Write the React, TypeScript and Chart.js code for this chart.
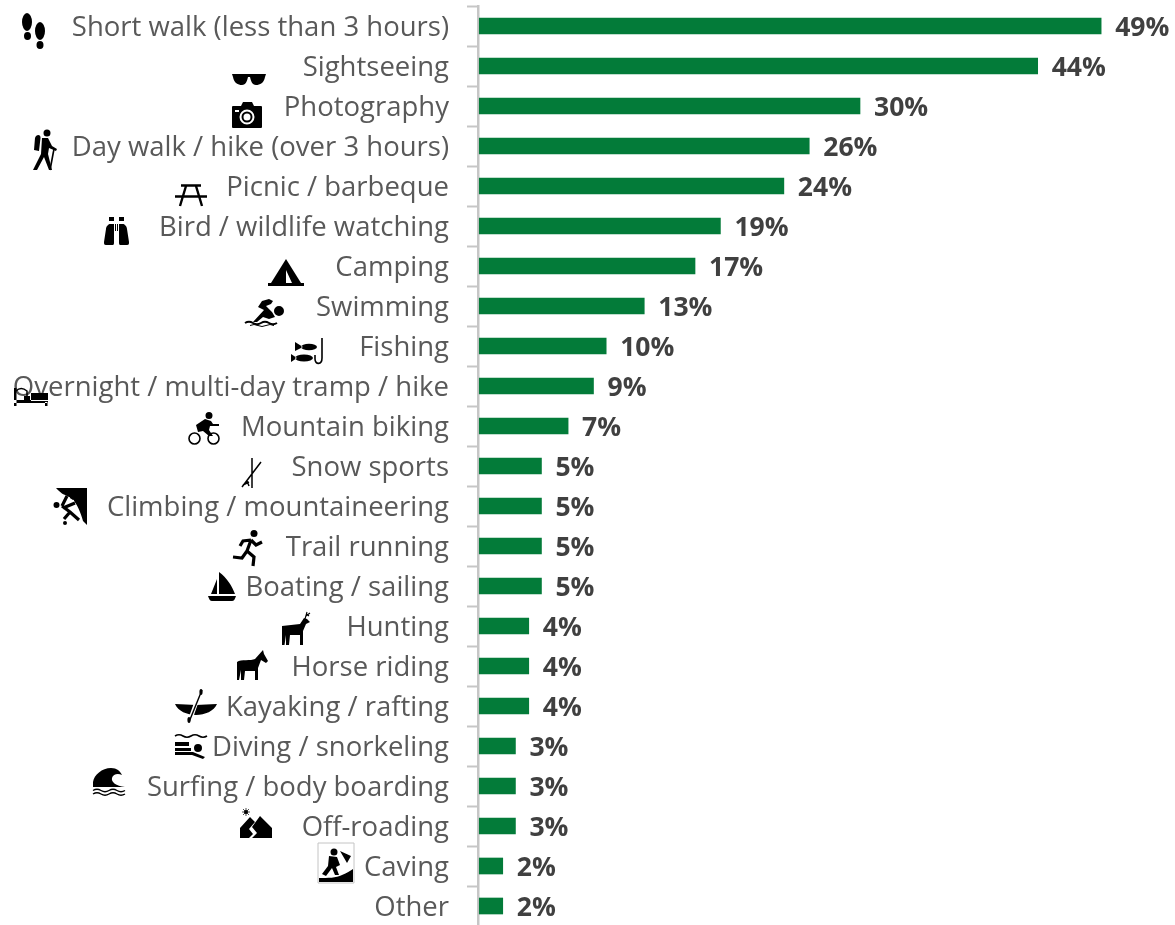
import React, { useEffect, useRef } from "react";
import { Chart, registerables } from "chart.js";

Chart.register(...registerables);

const categories = [
  "Short walk (less than 3 hours)", "Sightseeing", "Photography", "Day walk / hike (over 3 hours)",
  "Picnic / barbeque", "Bird / wildlife watching", "Camping", "Swimming", "Fishing",
  "Overnight / multi-day tramp / hike", "Mountain biking", "Snow sports", "Climbing / mountaineering",
  "Trail running", "Boating / sailing", "Hunting", "Horse riding", "Kayaking / rafting",
  "Diving / snorkeling", "Surfing / body boarding", "Off-roading", "Caving", "Other",
];
const shares = [49, 44, 30, 26, 24, 19, 17, 13, 10, 9, 7, 4.9, 4.9, 4.9, 4.9, 3.9, 3.9, 3.9, 2.85, 2.85, 2.85, 1.85, 1.85];

const circle = (cx: number, cy: number, rx: number, ry = rx) =>
  `M${cx - rx} ${cy}A${rx} ${ry} 0 1 0 ${cx + rx} ${cy}A${rx} ${ry} 0 1 0 ${cx - rx} ${cy}Z`;
const rect = (x: number, y: number, w: number, h: number) => `M${x} ${y}h${w}v${h}h${-w}Z`;
const wave = (y: number) => `M0 ${y}q4 -2.5 8 0t8 0t8 0t8 0`;

type Layer = { f?: string; s?: string; w?: number; c?: string };
type Icon = { x: number; y: number; layers: Layer[] };

const icons: Icon[] = [
  { x: 22, y: 13, layers: [{ f: circle(5, 9, 5, 9) + circle(5.5, 23, 3.5, 4) + circle(18, 18, 5, 9) + circle(18, 32, 3.5, 4) }] },
  { x: 232, y: 73, layers: [{ f: "M0 1H34L33 4C32 10 28 12 24 12C20 12 19 8 18 4H16C15 8 14 12 10 12C6 12 2 10 1 4Z" }] },
  { x: 232, y: 101, layers: [{ f: "M1 5H9L11 1H20L22 5H29Q30 5 30 6V26Q30 27 29 27H1Q0 27 0 26V6Q0 5 1 5Z" + circle(15, 16, 7.5) + circle(15, 16, 5.5) + circle(15, 16, 3.5) + rect(3, 9, 4, 2) }] },
  { x: 33, y: 129, layers: [{ f: circle(14, 4, 3.5) + "M2 9C3 5 8 5 7.5 9L6 22L1 21Z" + "M9 9H15L19 17L24 20L23 22L16 19L15 25L19 41H16L11 28L4 41H0L8 25Z" }, { s: "M21 20L17 41", w: 1.6 }] },
  { x: 175, y: 183, layers: [{ s: "M6 2.5H26M0 13.5H32M11 3L5 23M21 3L27 23", w: 2.4 }] },
  { x: 104, y: 217, layers: [{ f: "M2 12C2 9 5 7 6 7H10V26C10 28 9 28 8 28H2C0 28 0 27 0 25Z" + "M23 12C23 9 20 7 19 7H15V26C15 28 16 28 17 28H23C25 28 25 27 25 25Z" + rect(5, 0, 5, 4) + rect(15, 0, 5, 4) + rect(11, 7, 1, 7) + rect(13, 7, 1, 7) }] },
  { x: 268, y: 259, layers: [{ f: "M18 0L33 24H36V27H0V24H3Z" + "M18 11L24 24H18Z" }] },
  { x: 245, y: 298, layers: [{ f: circle(34, 13, 5) + "M8 24L19 12L13 9L17 3L24 1L28 3L26 6L21 8L27 14L30 19L24 21L18 19L12 24Z" }, { s: wave(25), w: 2 }, { s: "M5 27.5q4 -2 8 0t8 0t8 0", w: 1 }] },
  { x: 291, y: 338, layers: [{ f: circle(18, 9, 8, 3.2) + "M4 4L12 9L4 13Z" + circle(13, 20, 9, 3.5) + "M0 16L6 20L0 24Z" }, { s: "M31 0V20C31 27 24 27 24 21V17", w: 1.6 }] },
  { x: 13, y: 388, layers: [{ f: rect(1, 0, 2.5, 18) + rect(1, 12, 34, 3) + rect(18, 5, 17, 8) + rect(32, 14, 2.5, 4) + rect(11, 8, 6, 4) }, { s: "M3 3Q8 -2 14 3V12", w: 1.5 }] },
  { x: 188, y: 412, layers: [{ s: circle(6.5, 26.5, 5.5) + circle(25.5, 26.5, 5.5), w: 1.6 }, { f: circle(21, 3.5, 3.5) + "M8 13L17 7L23 9L25 12H31V14H22L21 18L25 24H21L15 19L10 20Z" }] },
  { x: 241, y: 458, layers: [{ s: "M11 0V30M20 4L1 29M6 23L8 28M2 27L8 24", w: 1.5 }] },
  { x: 53, y: 488, layers: [{ f: "M3 0H34V37L30 33C28 25 24 16 20 12C14 8 8 6 3 0Z" }, { s: "M9 18L14 8M9 18L17 24L26 32M17 24L11 31M10 20L22 15", w: 7, c: "#ffffff" }, { f: circle(3.5, 17, 3) + circle(12, 35, 2) }, { s: "M9 18L14 8M9 18L17 24L26 32M17 24L11 31M10 20L22 15", w: 3.2 }] },
  { x: 233, y: 530, layers: [{ f: circle(21, 3.5, 3.5) }, { s: "M18 10L14 21L21 27L20 36M14 21L9 28L0 27M18 10L10 11L7 16M18 10L23 15L29 12", w: 3.2 }] },
  { x: 208, y: 572, layers: [{ f: "M11 0C19 6 24 14 27 22H11Z" + "M9 7L3 22H9Z" + "M0 24H28C27 27 26 29 24 29H4C2 29 1 27 0 24Z" }] },
  { x: 282, y: 612, layers: [{ f: "M0 14L18 12L22 6L25 7L28 10L24 12L21 19V33H18V23L8 23L7 33H4V23L2.5 33H0Z" }, { s: "M23 7L25 0M24 4L28 1M24.5 2L27 4", w: 1.1 }] },
  { x: 237, y: 650, layers: [{ f: "M0 12C4 9 14 11 18 9L26 0L27 4L31 11L29 13L24 10L21 18V30H18V21L8 21L7 30H4V20L2 30H0Z" }] },
  { x: 175, y: 689, layers: [{ f: "M0 15C8 15 14 16 21 16C28 16 34 15 42 15C39 22 30 26 21 26C12 26 3 22 0 15Z" }, { s: "M26 0L14 34", w: 4, c: "#ffffff" }, { s: "M27 1L14 33", w: 1.4 }, { f: circle(26, 3, 1.6, 3) + circle(14, 31, 1.6, 3) }] },
  { x: 175, y: 734, layers: [{ s: wave(2), w: 1.6 }, { f: rect(0, 8, 14, 4) + rect(0, 14, 16, 3) + "M0 18H18L30 23L28 25L17 21H0Z" + circle(23, 14, 4) }] },
  { x: 93, y: 768, layers: [{ f: "M0 19V14C1 7 9 0 18 0C24 0 27 3 29 7C25 5 20 6 19 10C18 14 23 18 32 19Z" }, { s: wave(22.5) + wave(26), w: 1.4 }] },
  { x: 240, y: 808, layers: [{ f: circle(6, 4, 2) }, { s: "M6 0V8M2 4H10M3 1L9 7M9 1L3 7", w: 0.7 }, { f: "M0 30V20L10 9L15 14L9 21L13 26L9 30Z" + "M12 30L17 25L12 19L20 8L32 20V30Z" }] },
  { x: 318, y: 843, layers: [{ s: rect(0, 0, 36, 40), w: 1, c: "#c4c4c4" }, { f: circle(16, 9, 3.5) + "M11 13L19 14L22 22L18 24L21 32H17L14 25L8 33L4 31L10 23Z" + "M22 8L33 13L29 20Z" + "M1 39V35C10 35 18 35 24 32C29 30 32 28 35 26V39Z" }] },
];

const dataLabels = {
  id: "dataLabels",
  afterDatasetsDraw(chart: any) {
    const { ctx } = chart;
    const meta = chart.getDatasetMeta(0);
    ctx.save();
    ctx.font = "bold 26.5px 'Open Sans'";
    ctx.fillStyle = "#404040";
    ctx.textAlign = "left";
    ctx.textBaseline = "middle";
    meta.data.forEach((bar: any, i: number) => {
      ctx.fillText(`${Math.round(shares[i])}%`, bar.x + 14, bar.y + 2.5);
    });
    ctx.restore();
  },
};

const iconLayer = {
  id: "iconLayer",
  afterDraw(chart: any) {
    const { ctx } = chart;
    ctx.save();
    icons.forEach((icon) => {
      ctx.save();
      ctx.translate(icon.x, icon.y);
      icon.layers.forEach((l) => {
        if (l.f) {
          ctx.fillStyle = l.c ?? "#000000";
          ctx.fill(new Path2D(l.f), "evenodd");
        }
        if (l.s) {
          ctx.strokeStyle = l.c ?? "#000000";
          ctx.lineWidth = l.w ?? 1;
          ctx.stroke(new Path2D(l.s));
        }
      });
      ctx.restore();
    });
    ctx.restore();
  },
};

export default function App() {
  const ref = useRef<HTMLCanvasElement>(null);
  useEffect(() => {
    const chart = new Chart(ref.current as HTMLCanvasElement, {
      type: "bar",
      data: {
        labels: categories,
        datasets: [{ data: shares, backgroundColor: "#037B39", barThickness: 16, borderWidth: 0 }],
      },
      options: {
        indexAxis: "y",
        responsive: false,
        animation: false,
        layout: { padding: { top: 6, left: 0, right: 0, bottom: 0 } },
        plugins: { legend: { display: false }, tooltip: { enabled: false }, title: { display: false } },
        scales: {
          x: { display: false, min: -0.1, max: 54.82 },
          y: {
            afterFit: (scale: any) => {
              scale.width = 478;
              scale.paddingTop = 0;
              scale.paddingBottom = 0;
            },
            border: { display: true, color: "#C6C6C6", width: 2.5 },
            grid: { drawOnChartArea: false, drawTicks: true, tickLength: 11, tickColor: "#C6C6C6", tickWidth: 2, offset: true },
            ticks: {
              autoSkip: false,
              padding: 18,
              labelOffset: 2.5,
              color: "#595959",
              font: { family: "'Open Sans'", size: 27.5 },
            },
          },
        },
      } as any,
      plugins: [dataLabels, iconLayer],
    });
    return () => chart.destroy();
  }, []);
  return (
    <div style={{ position: "absolute", left: 0, top: 0, width: 1175, height: 925, overflow: "hidden", background: "#ffffff" }}>
      <canvas ref={ref} width={1175} height={926} style={{ display: "block" }} />
    </div>
  );
}
